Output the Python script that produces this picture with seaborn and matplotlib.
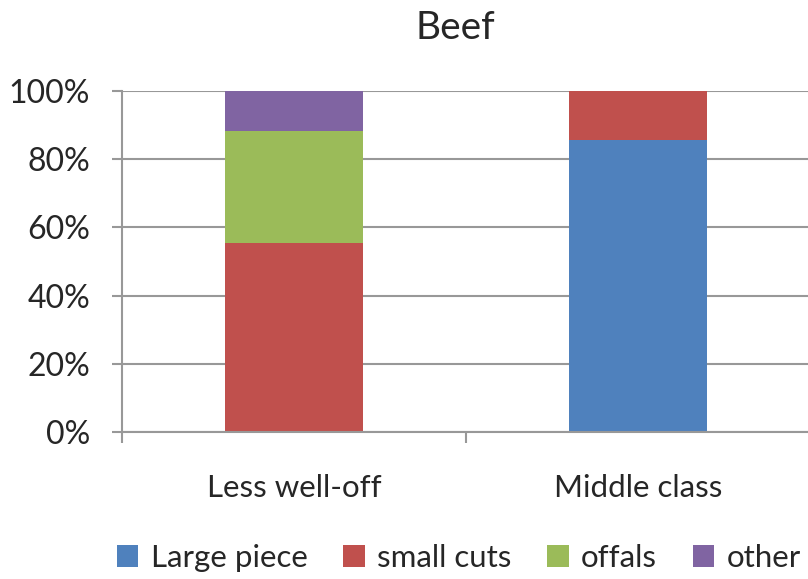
import matplotlib
matplotlib.use("Agg")
import matplotlib.pyplot as plt
from matplotlib.patches import Patch
from matplotlib.ticker import PercentFormatter
import seaborn as sns
import numpy as np

# --- data (percent of each group) ---
categories = ["Less well-off", "Middle class"]
series_names = ["Large piece", "small cuts", "offals", "other"]
large_piece = [0.0, 85.7]
small_cuts = [55.3, 14.3]
offals = [33.1, 0.0]
other = [11.6, 0.0]
y_ticks = [0, 20, 40, 60, 80, 100]

colors = ["#4F81BD", "#C0504D", "#9BBB59", "#8064A2"]
grid_color = "#989898"

sns.set_theme(style="white")
plt.rcParams['font.family'] = ['Lato', 'DejaVu Sans']

fig = plt.figure(figsize=(8.08, 5.79), dpi=100)
ax = fig.add_axes([122 / 808, 147 / 579, 688 / 808, 341 / 579])

# stack by drawing cumulative tops, topmost series first
stack = np.array([large_piece, small_cuts, offals, other])
tops = np.cumsum(stack, axis=0)
for i in range(len(series_names) - 1, -1, -1):
    sns.barplot(x=categories, y=tops[i], color=colors[i], width=0.4,
                saturation=1, edgecolor="none", linewidth=0, ax=ax)

ax.set_xlim(-0.5, 1.5)
ax.set_ylim(0, 100)
ax.set_yticks(y_ticks)
ax.yaxis.set_major_formatter(PercentFormatter(decimals=0))
ax.yaxis.grid(True, color=grid_color, linewidth=1.5)
ax.set_axisbelow(True)

# category labels without ticks, tick marks on the category borders
ax.set_xticks([0, 1])
ax.set_xticks([-0.5, 0.5, 1.5], minor=True)
ax.tick_params(axis="x", which="major", length=0, pad=30, labelsize=22.5)
ax.tick_params(axis="x", which="minor", direction="out", length=8,
               width=1.5, color=grid_color, bottom=True)
ax.tick_params(axis="y", direction="out", length=7, width=1.5,
               color=grid_color, pad=16, labelsize=23, left=True)

for side in ["top", "right"]:
    ax.spines[side].set_visible(False)
for side in ["left", "bottom"]:
    ax.spines[side].set_color(grid_color)
    ax.spines[side].set_linewidth(1.5)

ax.set_xlabel("")
ax.set_ylabel("")

fig.text(455 / 808, 1 - 28 / 579, "Beef", ha="center", va="center", fontsize=28)

handles = [Patch(facecolor=c, edgecolor="none", label=n)
           for c, n in zip(colors, series_names)]
fig.legend(handles=handles, loc="center", bbox_to_anchor=(459 / 808, 21 / 579),
           ncol=4, frameon=False, fontsize=22.5, handlelength=0.68,
           handleheight=0.68, handletextpad=0.4, columnspacing=1.15)

fig.savefig("out.png", dpi=100)
